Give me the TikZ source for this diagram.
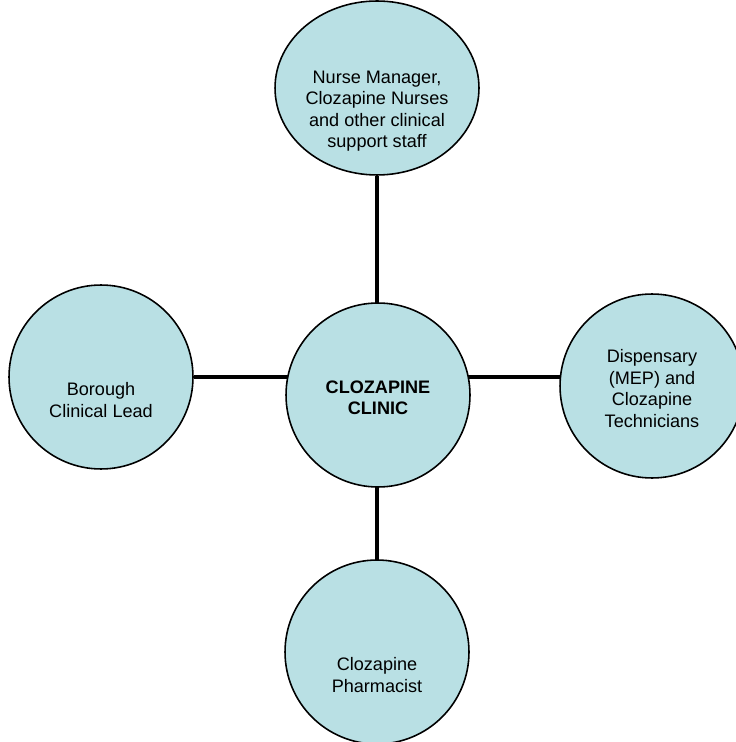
\documentclass[tikz,border=0pt]{standalone}
\usepackage{fontspec}
\setmainfont{Liberation Sans}
\usetikzlibrary{shapes.geometric,backgrounds}
\definecolor{bubble}{RGB}{185,224,228}
\begin{document}
\begin{tikzpicture}[x=0.02cm,y=-0.02cm]
    \tikzstyle{every node}+=[inner sep=0pt,align=center,font=\fontsize{10.3}{12.2}\selectfont]
    \tikzstyle{bubble}=[circle,draw=black,line width=0.9pt,fill=bubble,minimum size=3.68cm]
    \tikzstyle{low}=[yshift=-0.46cm]
    \tikzstyle{mid}=[yshift=-0.05cm]
    \tikzstyle{link}=[line width=2.8pt,black]
    \useasboundingbox (0,0) rectangle (735,742);
    \node [bubble,label={[mid]center:{\textbf{CLOZAPINE}\\\textbf{CLINIC}}}] (clinic) at (378,395) {};
    \node [bubble,ellipse,minimum width=4.08cm,minimum height=3.48cm,
        label={[low]center:{Nurse Manager,\\Clozapine Nurses\\and other clinical\\support staff}}] (nurses) at (377,88) {};
    \node [bubble,label={[low]center:{Borough\\Clinical Lead}}] (lead) at (101,377) {};
    \node [bubble,label={[mid]center:{Dispensary\\(MEP) and\\Clozapine\\Technicians}}] (disp) at (652,386) {};
    \node [bubble,label={[low]center:{Clozapine\\Pharmacist}}] (pharm) at (377,652) {};
    \begin{scope}[on background layer]
    \draw [link] (lead) -- (lead -| disp);
    \draw [link] (nurses) -- (nurses |- pharm);
    \end{scope}
\end{tikzpicture}
\end{document}
